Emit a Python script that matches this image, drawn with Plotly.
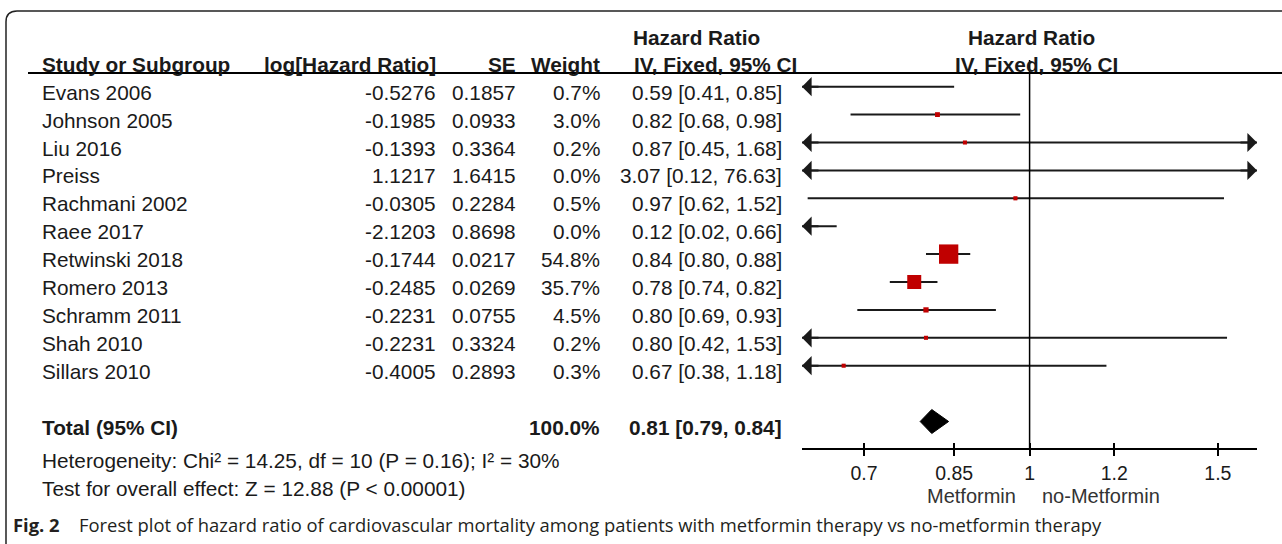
import math
import plotly.graph_objects as go

# ---------------- data ----------------
studies = ["Evans 2006", "Johnson 2005", "Liu 2016", "Preiss", "Rachmani 2002", "Raee 2017",
           "Retwinski 2018", "Romero 2013", "Schramm 2011", "Shah 2010", "Sillars 2010"]
log_hr = [-0.5276, -0.1985, -0.1393, 1.1217, -0.0305, -2.1203, -0.1744, -0.2485, -0.2231, -0.2231, -0.4005]
se = [0.1857, 0.0933, 0.3364, 1.6415, 0.2284, 0.8698, 0.0217, 0.0269, 0.0755, 0.3324, 0.2893]
weight = [0.7, 3.0, 0.2, 0.0, 0.5, 0.0, 54.8, 35.7, 4.5, 0.2, 0.3]
hr = [0.59, 0.82, 0.87, 3.07, 0.97, 0.12, 0.84, 0.78, 0.80, 0.80, 0.67]
ci_lo = [0.41, 0.68, 0.45, 0.12, 0.62, 0.02, 0.80, 0.74, 0.69, 0.42, 0.38]
ci_hi = [0.85, 0.98, 1.68, 76.63, 1.52, 0.66, 0.88, 0.82, 0.93, 1.53, 1.18]

total_label = "Total (95% CI)"
total_weight = 100.0
total_hr = 0.81
total_lo = 0.79
total_hi = 0.84

tick_vals = [0.7, 0.85, 1, 1.2, 1.5]
tick_text = ["0.7", "0.85", "1", "1.2", "1.5"]
favours = ["Metformin", "no-Metformin"]
heterogeneity = "Heterogeneity: Chi² = 14.25, df = 10 (P = 0.16); I² = 30%"
overall_effect = "Test for overall effect: Z = 12.88 (P < 0.00001)"
caption_bold = "Fig. 2"
caption_text = ("Forest plot of hazard ratio of cardiovascular mortality among patients "
                "with metformin therapy vs no-metformin therapy")

# ---------------- layout constants ----------------
W, H = 1282, 544
ROW0, STEP = 86.7, 27.9          # pixel of first row, row spacing
X_RANGE = [0.6125, 1.632]
XR = [math.log10(v) for v in X_RANGE]
DOM = [802 / W, 1257 / W]
AXIS_ROW = 13.0
TOTAL_ROW = 12.0
TXT_OFF = 0.2
FONT = "Liberation Sans, Arial, sans-serif"
FS = 20.8
TXT = "#1a1a1a"
RED = "#c00000"


def px(x):
    return x / W


def py(p):
    return 1 - p / H


def prow(p):
    return (p - ROW0) / STEP


rows = list(range(len(studies)))

fig = go.Figure()

# CI lines
xs, ys = [], []
for i, lo, hi in zip(rows, ci_lo, ci_hi):
    xs += [lo, hi, None]
    ys += [i, i, None]
fig.add_trace(go.Scatter(x=xs, y=ys, mode="lines", line=dict(color=TXT, width=2),
                         hoverinfo="skip", showlegend=False))

# squares
fig.add_trace(go.Scatter(x=hr, y=rows, mode="markers",
                         marker=dict(symbol="square", color=RED, opacity=1,
                                     size=[4 + 0.28 * w for w in weight],
                                     line=dict(width=0)),
                         showlegend=False))

# diamond
half = 12 / STEP
fig.add_trace(go.Scatter(x=[total_lo, total_hr, total_hi, total_hr, total_lo],
                         y=[TOTAL_ROW, TOTAL_ROW - half, TOTAL_ROW, TOTAL_ROW + half, TOTAL_ROW],
                         mode="lines", fill="toself", fillcolor="black",
                         line=dict(color="black", width=1), showlegend=False))

# vertical line of no effect (on overlay axis)
fig.add_trace(go.Scatter(x=[1, 1], y=[prow(60), AXIS_ROW], mode="lines", xaxis="x2",
                         line=dict(color="black", width=1.5), showlegend=False))

annotations = []

# arrows for clipped CIs
for i, lo, hi in zip(rows, ci_lo, ci_hi):
    if lo < X_RANGE[0]:
        annotations.append(dict(x=XR[0], y=i, xref="x", yref="y", ax=18, ay=0, text="",
                                showarrow=True, arrowhead=1, arrowsize=1.6, arrowwidth=2,
                                arrowcolor=TXT))
    if hi > X_RANGE[1]:
        annotations.append(dict(x=XR[1], y=i, xref="x", yref="y", ax=-18, ay=0, text="",
                                showarrow=True, arrowhead=1, arrowsize=1.6, arrowwidth=2,
                                arrowcolor=TXT))


def txt(text, x, y, anchor="left", bold=False, size=FS, yref="y", family=FONT, color=TXT):
    annotations.append(dict(text=("<b>%s</b>" % text) if bold else text, x=px(x), y=y,
                            xref="paper", yref=yref, xanchor=anchor, yanchor="middle",
                            showarrow=False, font=dict(family=family, size=size, color=color)))


# headers
txt("Hazard Ratio", 631, prow(37), "left", True)
txt("Hazard Ratio", 1031, prow(37), "center", True)
hy = prow(64)
txt("Study or Subgroup", 40, hy, "left", True)
txt("log[Hazard Ratio]", 438, hy, "right", True)
txt("SE", 518, hy, "right", True)
txt("Weight", 602, hy, "right", True)
txt("IV, Fixed, 95% CI", 632, hy, "left", True)
txt("IV, Fixed, 95% CI", 1036, hy, "center", True)

# rows
for i in rows:
    y = i + TXT_OFF
    txt(studies[i], 40, y, "left")
    txt("%.4f" % log_hr[i], 438, y, "right")
    txt("%.4f" % se[i], 518, y, "right")
    txt("%.1f%%" % weight[i], 602, y, "right")
    txt("%.2f [%.2f, %.2f]" % (hr[i], ci_lo[i], ci_hi[i]), 784, y, "right")

# total
ty = TOTAL_ROW + TXT_OFF
txt(total_label, 40, ty, "left", True)
txt("%.1f%%" % total_weight, 602, ty, "right", True)
txt("%.2f [%.2f, %.2f]" % (total_hr, total_lo, total_hi), 784, ty, "right", True)

txt(heterogeneity, 40, prow(460), "left")
txt(overall_effect, 40, prow(488), "left")

# favours labels
txt(favours[0], 1018, prow(496), "right", size=20, color="#333333")
txt(favours[1], 1040, prow(496), "left", size=20, color="#333333")

# caption
CAP_FONT = "Open Sans, Noto Sans, sans-serif"
txt(caption_bold, 11, prow(524), "left", True, size=18.4, family=CAP_FONT, color="#231f20")
txt(caption_text, 77, prow(524), "left", False, size=18.4, family=CAP_FONT, color="#231f20")

shapes = [
    # header rule
    dict(type="line", xref="paper", yref="paper", x0=px(28), x1=1, y0=py(73), y1=py(73),
         line=dict(color="black", width=2)),
    # frame
    dict(type="path", xref="paper", yref="paper",
         path="M %f,%f L %f,%f Q %f,%f %f,%f L %f,%f" % (
             px(6), py(544), px(6), py(22), px(6), py(11), px(17), py(11), 1.0, py(11)),
         line=dict(color="#222222", width=1.5)),
]

axis_pos = 1 - (ROW0 + AXIS_ROW * STEP) / H
common = dict(type="log", range=XR, domain=DOM, anchor="free", position=axis_pos,
              tickvals=tick_vals, showgrid=False, zeroline=False, fixedrange=True)

fig.update_layout(
    width=W, height=H, margin=dict(l=0, r=0, t=0, b=0),
    paper_bgcolor="white", plot_bgcolor="white",
    showlegend=False,
    xaxis=dict(**common, ticktext=tick_text, ticks="outside", ticklen=6, tickwidth=2,
               tickcolor="black", showline=True, linewidth=2, linecolor="black",
               tickfont=dict(family=FONT, size=19.5, color=TXT), ticklabelstandoff=0),
    xaxis2=dict(**common, overlaying="x", ticks="inside", ticklen=6, tickwidth=2,
                tickcolor="black", showticklabels=False, showline=False),
    yaxis=dict(range=[(H - ROW0) / STEP, -ROW0 / STEP], domain=[0, 1], visible=False,
               fixedrange=True),
    annotations=annotations,
    shapes=shapes,
)

fig.write_html("out.html", config={"displayModeBar": False},
               post_script="document.body.style.margin='0';document.body.style.padding='0';")
